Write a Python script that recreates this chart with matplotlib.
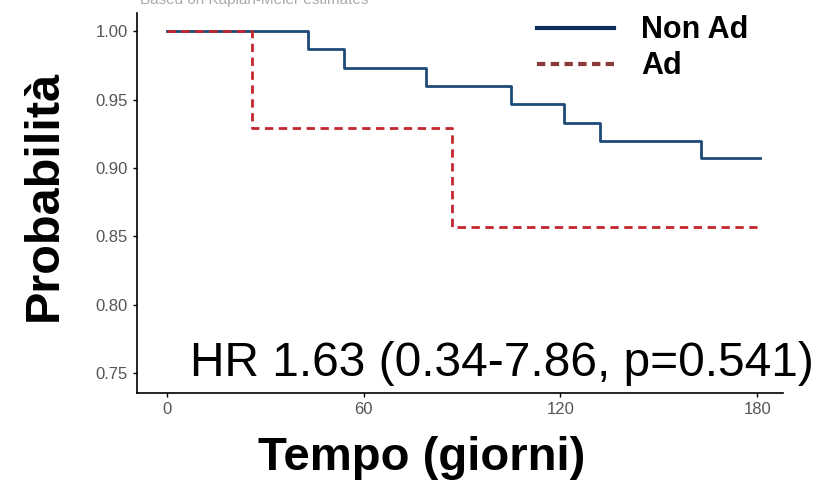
import numpy as np
import matplotlib.pyplot as plt
from matplotlib.lines import Line2D

# Kaplan-Meier step data
t_nonad = [0, 43, 54, 79, 105, 121, 132, 163, 181]
s_nonad = [1.000, 0.987, 0.973, 0.960, 0.947, 0.933, 0.920, 0.907, 0.907]
t_ad = [0, 26, 87, 180]
s_ad = [1.000, 0.929, 0.857, 0.857]

xticks = [0, 60, 120, 180]
yticks = [0.75, 0.80, 0.85, 0.90, 0.95, 1.00]

plt.rcParams['font.family'] = ['Liberation Sans', 'DejaVu Sans']

fig = plt.figure(figsize=(8.26, 4.86), dpi=100)
ax = fig.add_axes([0.1659, 0.1914, 0.948 - 0.1659, 0.973 - 0.1914])

ax.step(t_nonad, s_nonad, where='post', color='#1d4a78', lw=2)
ax.step(t_ad, s_ad, where='post', color='#c4262e', lw=2, ls=(0, (3, 2)))

ax.set_xlim(-9.15, 187.9)
ax.set_ylim(0.7354, 1.0132)
ax.set_xticks(xticks)
ax.set_yticks(yticks)
ax.set_yticklabels(['%.2f' % v for v in yticks])
for s in ['top', 'right']:
	ax.spines[s].set_visible(False)
for s in ['left', 'bottom']:
	ax.spines[s].set_linewidth(1.2)
ax.tick_params(labelsize=12, colors='black', labelcolor='#555555', length=3, width=1)

handles = [Line2D([], [], color='#0c2d57', lw=3),
	Line2D([], [], color='#8b3a3a', lw=3, ls=(0, (2, 1.3)))]
fig.legend(handles, ['Non Ad', 'Ad'], loc='upper left', bbox_to_anchor=(0.617, 1.025),
	frameon=False, prop={'weight': 'bold', 'size': 22}, handlelength=2.5,
	handletextpad=0.9, labelspacing=0.2)

fig.text(0.23, 0.226, 'HR 1.63 (0.34-7.86, p=0.541)', fontsize=34.5, va='baseline')
fig.text(0.51, 0.033, 'Tempo (giorni)', fontsize=34, weight='bold', ha='center', va='baseline')
fig.text(0.054, 0.599, 'Probabilità', fontsize=35, weight='bold', rotation=90,
	ha='center', va='center')
fig.text(0.17, 1.0, 'Based on Kaplan-Meier estimates', fontsize=11, color='#aaaaaa', va='center')

fig.savefig('out.png', dpi=100)
